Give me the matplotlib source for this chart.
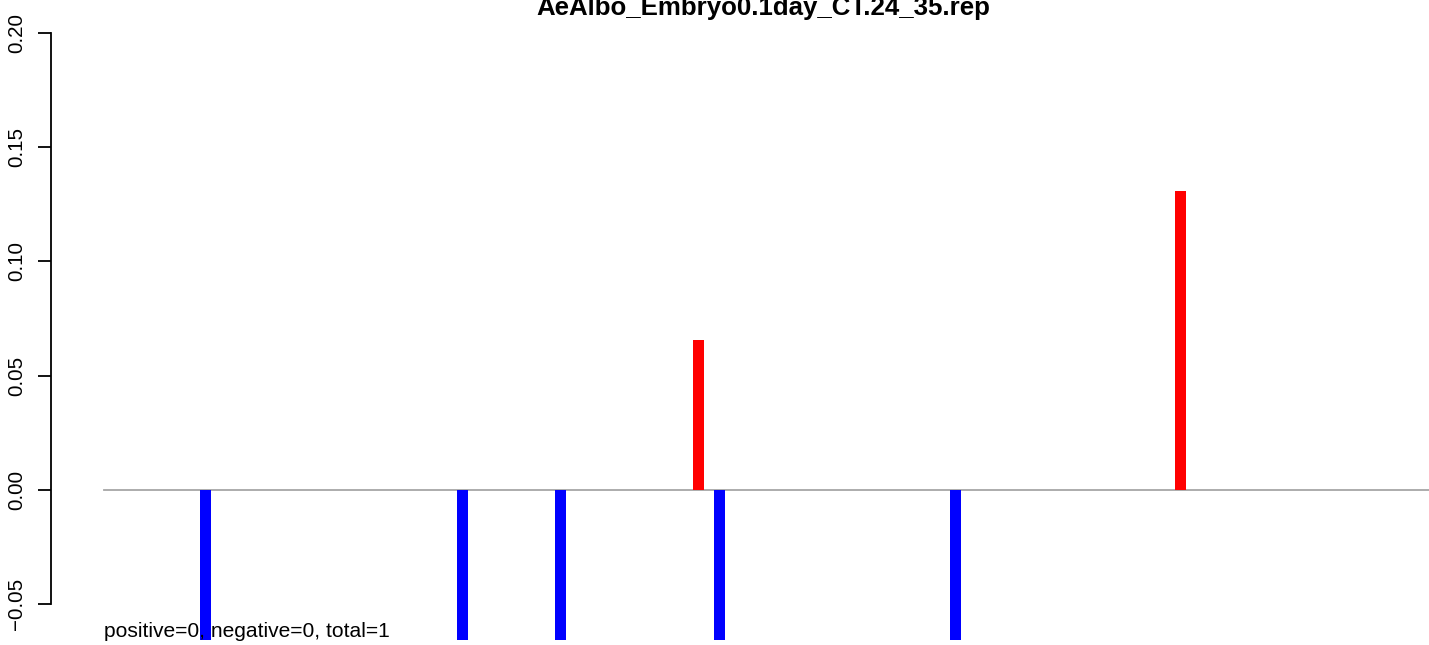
import matplotlib
matplotlib.use("Agg")
import matplotlib.pyplot as plt
from matplotlib.ticker import FixedLocator, FixedFormatter

plt.rcParams['font.family'] = ['Liberation Sans', 'DejaVu Sans']

title = "AeAlbo_Embryo0.1day_CT.24_35.rep"
note = "positive=0, negative=0, total=1"

# positions along the track (line starts at 0)
red_pos = [594.5, 1076.5]
red_val = [0.0656, 0.1308]
blue_pos = [101.5, 358.5, 456.0, 615.5, 851.0]
blue_val = [-0.07, -0.07, -0.07, -0.07, -0.07]
line_start, line_end = 0, 1371

yticks = [-0.05, 0.0, 0.05, 0.10, 0.15, 0.20]
ylabels = ["\u22120.05", "0.00", "0.05", "0.10", "0.15", "0.20"]

W, H = 1429, 645
fig = plt.figure(figsize=(W / 100, H / 100), dpi=100)
ax = fig.add_axes([50.7 / W, 5 / H, (1475 - 50.7) / W, 640 / H])

ax.plot([line_start, line_end], [0, 0], color='#a6a6a6', lw=1.3, zorder=1)
ax.bar(red_pos, red_val, width=11, color='#ff0000', zorder=2)
ax.bar(blue_pos, blue_val, width=11, color='#0000ff', zorder=2)

ax.set_xlim(-53.3, 1371)
ax.set_ylim(-0.06576, 0.21445)

for s in ['top', 'right', 'bottom']:
    ax.spines[s].set_visible(False)
ax.spines['left'].set_bounds(-0.05, 0.20)
ax.spines['left'].set_linewidth(1.3)
ax.set_xticks([])
ax.yaxis.set_major_locator(FixedLocator(yticks))
ax.yaxis.set_major_formatter(FixedFormatter(ylabels))
ax.tick_params(axis='y', length=9.4, width=1.3, pad=8.4, labelsize=14.8)
for lab in ax.get_yticklabels():
    lab.set_rotation(90)
    lab.set_va('center')

fig.text(763 / W, 1 - 15 / H, title, ha='center', va='baseline',
         fontsize=18.6, fontweight='bold')
fig.text(104 / W, 1 - 637 / H, note, ha='left', va='baseline', fontsize=15.1)

fig.savefig("out.png", dpi=100)
